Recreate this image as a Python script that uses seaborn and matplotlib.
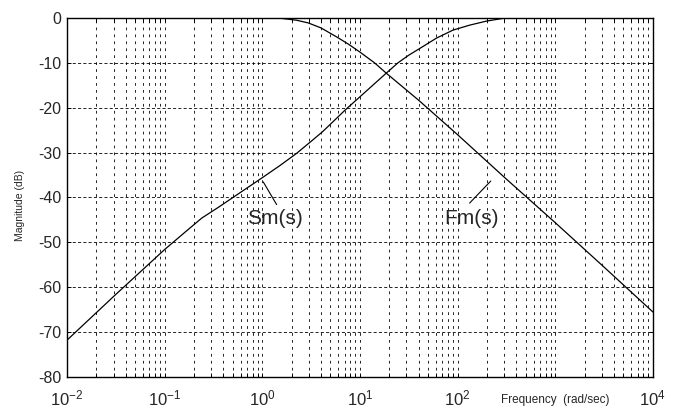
import matplotlib
matplotlib.use("Agg")
import matplotlib.pyplot as plt
import matplotlib.ticker as mticker
import numpy as np
import pandas as pd
import seaborn as sns

# values (log10 of frequency, magnitude in dB)
sm_logw = [-2.0, -1.5, -1.0, -0.8, -0.62, -0.45, -0.3, -0.15, 0.0, 0.18, 0.35, 0.5, 0.62,
           0.85, 1.05, 1.27, 1.39, 1.5, 1.613, 1.784, 1.954, 2.125, 2.296, 2.466, 2.5]
sm_db = [-71.8, -61.6, -51.6, -47.9, -44.6, -42.2, -40.0, -37.8, -35.6, -32.9, -30.2, -27.5,
         -25.3, -20.5, -16.6, -12.3, -10.0, -8.3, -6.8, -4.5, -2.7, -1.6, -0.7, -0.1, 0.0]

fm_logw = [0.1, 0.2, 0.35, 0.47, 0.6, 0.76, 0.88, 1.0, 1.15, 1.27, 1.6, 2.0, 2.5, 3.0, 3.5, 4.0]
fm_db = [0.0, -0.1, -0.5, -1.1, -2.2, -4.2, -5.8, -7.6, -10.0, -12.3, -18.3, -26.0, -35.9,
         -45.6, -55.5, -65.5]

x_ticks = [1e-2, 1e-1, 1e0, 1e1, 1e2, 1e3, 1e4]
x_ticklabels = ["$10^{-2}$", "$10^{-1}$", "$10^{0}$", "$10^{1}$", "$10^{2}$", "", "$10^{4}$"]
y_ticks = [0, -10, -20, -30, -40, -50, -60, -70, -80]

df = pd.concat([
    pd.DataFrame({"w": 10 ** np.array(sm_logw), "db": sm_db, "curve": "Sm"}),
    pd.DataFrame({"w": 10 ** np.array(fm_logw), "db": fm_db, "curve": "Fm"}),
])

sns.set_style("ticks")
plt.rcParams["font.family"] = ["Liberation Sans", "DejaVu Sans"]
plt.rcParams["mathtext.fontset"] = "custom"
plt.rcParams["mathtext.rm"] = "Liberation Sans"
plt.rcParams["mathtext.it"] = "Liberation Sans"
plt.rcParams["lines.scale_dashes"] = False

fig = plt.figure(figsize=(6.8, 4.08), dpi=100)
ax = fig.add_axes([0.0985, 0.076, 0.8615, 0.88])

sns.lineplot(data=df, x="w", y="db", units="curve", estimator=None, sort=False,
             color="black", lw=0.9, ax=ax, zorder=3)

ax.set_xscale("log")
ax.set_xlim(1e-2, 1e4)
ax.set_ylim(-80, 0)
ax.set_xticks(x_ticks)
ax.set_xticklabels(x_ticklabels, fontsize=12)
ax.xaxis.set_minor_locator(mticker.LogLocator(base=10, subs=np.arange(2, 10)))
ax.xaxis.set_minor_formatter(mticker.NullFormatter())
ax.set_yticks(y_ticks)
ax.set_yticklabels([str(v) for v in y_ticks], fontsize=11.5)
ax.tick_params(axis="both", which="both", direction="in", length=3, width=0.7,
               top=True, right=True, color="black")
ax.tick_params(axis="x", which="major", pad=8)
ax.tick_params(axis="y", which="major", pad=4)

# MATLAB-like dashed grid
ax.grid(True, which="both", axis="x", color="black", lw=0.6, linestyle=(0, (2, 3)))
ax.grid(True, which="major", axis="y", color="black", lw=0.6, linestyle=(0, (2.2, 1.6)))

for sp in ax.spines.values():
    sp.set_visible(True)
    sp.set_color("black")
    sp.set_linewidth(1.0)

ax.set_xlabel("")
ax.set_ylabel("")
fig.text(0.029, 0.497, "Magnitude (dB)", rotation=90, ha="center", va="center", fontsize=7.5)
fig.text(0.816, 0.02, "Frequency  (rad/sec)", ha="center", va="center", fontsize=8.5)

# curve labels with leader lines
ax.annotate("", xy=(0.99, -36.0), xytext=(1.45, -42.1),
            arrowprops=dict(arrowstyle="-", lw=0.8, color="black"))
ax.text(1.35, -44.6, "Sm(s)", fontsize=15, ha="center", va="center")
ax.annotate("", xy=(229, -35.9), xytext=(127, -41.7),
            arrowprops=dict(arrowstyle="-", lw=0.8, color="black"))
ax.text(140, -44.6, "Fm(s)", fontsize=15, ha="center", va="center")

legend = ax.get_legend()
if legend is not None:
    legend.remove()

fig.savefig("out.png", dpi=100, facecolor="white")
